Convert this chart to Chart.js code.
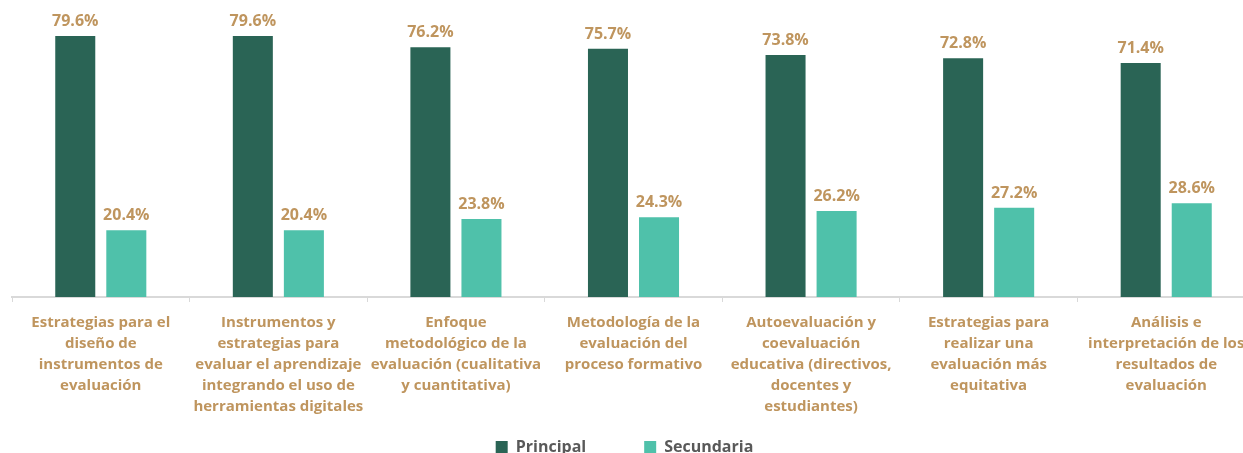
<!DOCTYPE html>
<html>
<head>
<meta charset="utf-8">
<script src="https://cdn.jsdelivr.net/npm/chart.js@4"></script>
<style>
  html, body { margin: 0; padding: 0; overflow: hidden; background: #ffffff; }
  .wrap { width: 1243px; height: 453px; overflow: hidden; }
</style>
</head>
<body>
<div class="wrap">
  <canvas id="barChart" width="1255" height="465"></canvas>
</div>
<script>
// categories (multi-line labels as shown under each group)
const categories = [
  ['Estrategias para el', 'diseño de', 'instrumentos de', 'evaluación'],
  ['Instrumentos y', 'estrategias para', 'evaluar el aprendizaje', 'integrando el uso de', 'herramientas digitales'],
  ['Enfoque', 'metodológico de la', 'evaluación (cualitativa', 'y cuantitativa)'],
  ['Metodología de la', 'evaluación del', 'proceso formativo'],
  ['Autoevaluación y', 'coevaluación', 'educativa (directivos,', 'docentes y', 'estudiantes)'],
  ['Estrategias para', 'realizar una', 'evaluación más', 'equitativa'],
  ['Análisis e', 'interpretación de los', 'resultados de', 'evaluación']
];
const seriesNames = ['Principal', 'Secundaria'];
const principal = [79.6, 79.6, 76.2, 75.7, 73.8, 72.8, 71.4];
const secundaria = [20.4, 20.4, 23.8, 24.3, 26.2, 27.2, 28.6];

const labelColor = '#bf955e';
const fontFamily = "'Open Sans', 'Noto Sans', sans-serif";

// draws the percentage above every bar
const valueLabels = {
  id: 'valueLabels',
  afterLayout(chart) {
    // let the category labels run down into the legend band
    chart.scales.x.bottom = chart.height;
    // nudge the legend a little to the left, as in the original
    chart.legend.left -= 18;
  },
  afterDatasetsDraw(chart) {
    const ctx = chart.ctx;
    ctx.save();
    ctx.fillStyle = labelColor;
    ctx.font = 'bold 16px ' + fontFamily;
    ctx.textAlign = 'center';
    ctx.textBaseline = 'alphabetic';
    chart.data.datasets.forEach((ds, i) => {
      const meta = chart.getDatasetMeta(i);
      meta.data.forEach((bar, j) => {
        ctx.fillText(ds.data[j].toFixed(1) + '%', bar.x, bar.y - 10);
      });
    });
    ctx.restore();
  }
};

const ctx = document.getElementById('barChart').getContext('2d');
new Chart(ctx, {
  type: 'bar',
  data: {
    labels: categories,
    datasets: [
      {
        label: seriesNames[0],
        data: principal,
        backgroundColor: '#2a6455',
        categoryPercentage: 0.575,
        barPercentage: 0.784
      },
      {
        label: seriesNames[1],
        data: secundaria,
        backgroundColor: '#4fc1aa',
        categoryPercentage: 0.575,
        barPercentage: 0.784
      }
    ]
  },
  options: {
    responsive: false,
    animation: false,
    layout: { padding: { left: 12, right: 0, top: 0, bottom: 0 } },
    plugins: {
      legend: {
        position: 'bottom',
        labels: {
          boxWidth: 12,
          boxHeight: 12,
          padding: 58,
          color: '#595959',
          font: { family: fontFamily, size: 16, weight: 'bold' }
        }
      },
      tooltip: { enabled: false }
    },
    scales: {
      x: {
        grid: {
          offset: true,
          drawOnChartArea: false,
          tickLength: 5,
          color: '#d9d9d9'
        },
        border: { color: '#d9d9d9', width: 2 },
        ticks: {
          color: labelColor,
          padding: 10,
          autoSkip: false,
          maxRotation: 0,
          font: { family: fontFamily, size: 15, weight: 'bold', lineHeight: 1.4 }
        },
        afterFit(scale) {
          scale.height = 84;
        }
      },
      y: {
        display: false,
        min: 0,
        max: 90.6
      }
    }
  },
  plugins: [valueLabels]
});
</script>
</body>
</html>
